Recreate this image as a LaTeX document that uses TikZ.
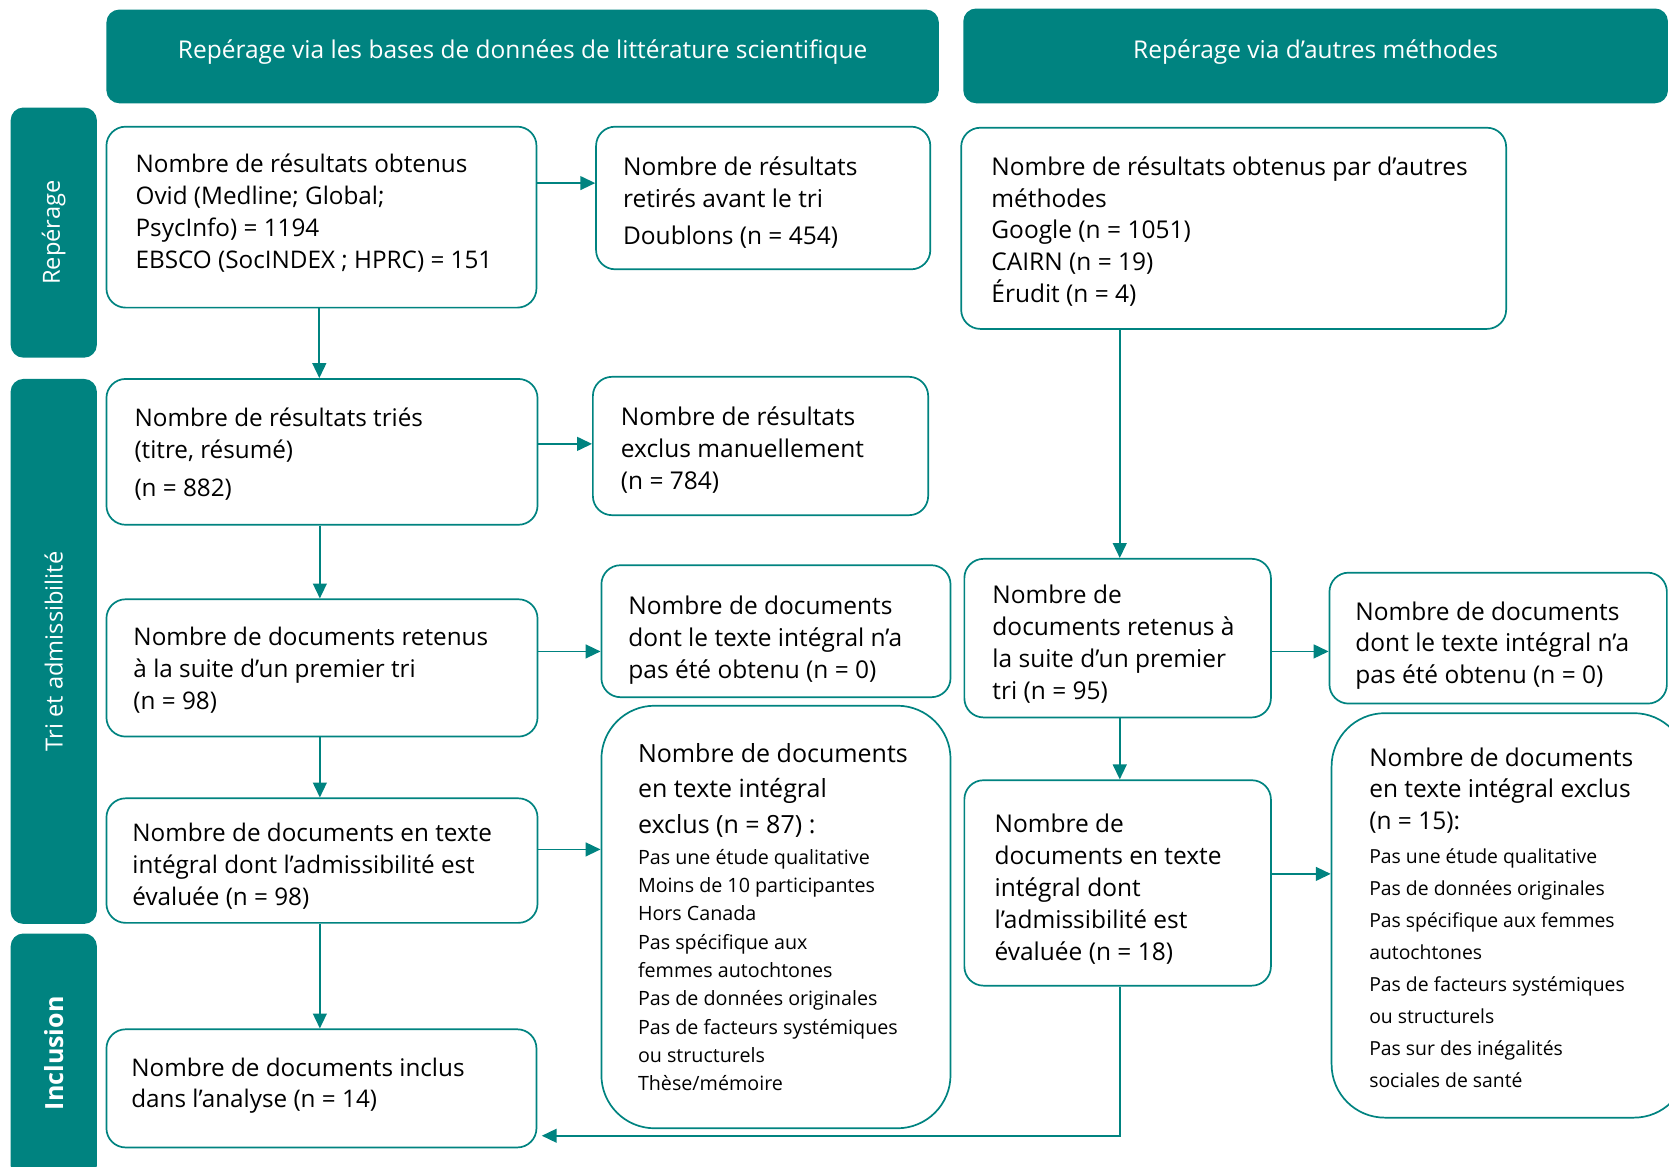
\documentclass[tikz,border=0pt]{standalone}
\usepackage{fontspec}
\setmainfont{Open Sans}
\usetikzlibrary{arrows.meta}
\definecolor{tl}{RGB}{0,131,128}
\begin{document}
\begin{tikzpicture}[x=1pt,y=-1pt,
  hdr/.style={fill=tl, rounded corners=12pt, inner sep=0pt},
  hdrtxt/.style={text=white, inner sep=0pt, font=\fontsize{23}{27}\selectfont},
  side/.style={fill=tl, rounded corners=12pt, inner sep=0pt},
  sidetxt/.style={text=white, rotate=90, inner sep=0pt, font=\fontsize{22.2}{26}\selectfont},
  bx/.style={draw=tl, line width=1.6pt, rounded corners=18pt, inner sep=0pt},
  bigbx/.style={draw=tl, line width=1.6pt, rounded corners=50pt, inner sep=0pt},
  txt/.style={anchor=west, align=left, inner sep=0pt, font=\fontsize{22.8}{30}\selectfont},
  txtw/.style={anchor=west, align=left, inner sep=0pt, font=\fontsize{23}{30}\selectfont},
  lst/.style={anchor=west, inner sep=0pt},
  arr/.style={draw=tl, line width=1.6pt, -{Triangle[length=14pt,width=13pt]}}
]
\useasboundingbox (0,0) rectangle (1568,1096);

% headers
\node[hdr, minimum width=782pt, minimum height=88pt] (h1) at (491,53) {};
\node[hdrtxt] (h1t) at ([yshift=4pt]h1.center) {Repérage via les bases de données de littérature scientifique};
\node[hdr, minimum width=662pt, minimum height=89pt] (h2) at (1236,52.5) {};
\node[hdrtxt] (h2t) at ([yshift=4pt]h2.center) {Repérage via d’autres méthodes};

% side bars
\node[side, minimum width=81pt, minimum height=235pt] (s1) at (50.5,218.5) {};
\node[sidetxt] (s1t) at (s1.center) {Repérage};
\node[side, minimum width=81pt, minimum height=512pt] (s2) at (50.5,612) {};
\node[sidetxt] (s2t) at (s2.center) {Tri et admissibilité};
\node[side, minimum width=81pt, minimum height=230pt] (s3) at (50.5,992) {};
\node[sidetxt, font=\fontsize{23.5}{27}\selectfont\bfseries] (s3t) at (50.5,989.5) {Inclusion};

% boxes
\node[bx, minimum width=404pt, minimum height=170pt] (A) at (302,204) {};
\node[txt] (At) at ([xshift=28pt,yshift=4pt]A.west) {Nombre de résultats obtenus\\Ovid (Medline; Global;\\PsycInfo) = 1194\\EBSCO (SocINDEX ; HPRC) = 151};

\node[bx, minimum width=314pt, minimum height=134pt] (B) at (717,186) {};
\node[txtw] (Bt) at ([xshift=26pt,yshift=-4.5pt]B.west) {Nombre de résultats\\retirés avant le tri\\[5pt]Doublons (n = 454)};

\node[bx, minimum width=512pt, minimum height=189pt] (C) at (1159,214.5) {};
\node[txtw] (Ct) at ([xshift=29pt,yshift=-3pt]C.west) {Nombre de résultats obtenus par d’autres\\méthodes\\Google (n = 1051)\\CAIRN (n = 19)\\Érudit (n = 4)};

\node[bx, minimum width=405pt, minimum height=137pt] (D) at (302.5,424.5) {};
\node[txt] (Dt) at ([xshift=27pt,yshift=-2pt]D.west) {Nombre de résultats triés\\(titre, résumé)\\[6pt](n = 882)};

\node[bx, minimum width=315pt, minimum height=130pt] (E) at (714.5,419) {};
\node[txtw] (Et) at ([xshift=27pt,yshift=-4pt]E.west) {Nombre de résultats\\exclus manuellement\\(n = 784)};

\node[bx, minimum width=405pt, minimum height=129pt] (F) at (302.5,627.5) {};
\node[txt] (Ft) at ([xshift=26pt,yshift=-2.5pt]F.west) {Nombre de documents retenus\\à la suite d’un premier tri\\(n = 98)};

\node[bx, minimum width=328pt, minimum height=124pt] (G) at (729,593) {};
\node[txtw] (Gt) at ([xshift=26pt,yshift=-8pt]G.west) {Nombre de documents\\dont le texte intégral n’a\\pas été obtenu (n = 0)};

\node[bx, minimum width=288pt, minimum height=149pt] (H) at (1050,599.5) {};
\node[txtw] (Ht) at ([xshift=27pt,yshift=-6pt]H.west) {Nombre de\\documents retenus à\\la suite d’un premier\\tri (n = 95)};

\node[bx, minimum width=317pt, minimum height=123pt] (I) at (1407.5,599.5) {};
\node[txtw] (It) at ([xshift=25pt,yshift=-7pt]I.west) {Nombre de documents\\dont le texte intégral n’a\\pas été obtenu (n = 0)};

\node[bx, minimum width=405pt, minimum height=117pt] (J) at (302.5,808.5) {};
\node[txt] (Jt) at ([xshift=25pt,yshift=-5pt]J.west) {Nombre de documents en texte\\intégral dont l’admissibilité est\\évaluée (n = 98)};

\node[bigbx, minimum width=328pt, minimum height=397pt] (K) at (729,861.5) {};
\node[lst] (Kt) at ([xshift=35pt]K.west) {\parbox{285pt}{\raggedright
\fontsize{23.5}{33.5}\selectfont Nombre de documents\\en texte intégral\\exclus (n = 87) :\par\vspace{2.4pt}
\fontsize{18.5}{26.6}\selectfont Pas une étude qualitative\\Moins de 10 participantes\\Hors Canada\\Pas spécifique aux\\femmes autochtones\\Pas de données originales\\Pas de facteurs systémiques\\ou structurels\\Thèse/mémoire\par}};

\node[bx, minimum width=288pt, minimum height=193pt] (L) at (1050,829.5) {};
\node[txtw] (Lt) at ([xshift=29pt,yshift=-5.5pt]L.west) {Nombre de\\documents en texte\\intégral dont\\l’admissibilité est\\évaluée (n = 18)};

\node[bigbx, minimum width=334pt, minimum height=380pt] (M) at (1418,860) {};
\node[lst] (Mt) at ([xshift=36pt,yshift=-2pt]M.west) {\parbox{290pt}{\raggedright
\fontsize{23}{30}\selectfont Nombre de documents\\en texte intégral exclus\\(n = 15):\par\vspace{2pt}
\fontsize{18.2}{30}\selectfont Pas une étude qualitative\\Pas de données originales\\Pas spécifique aux femmes\\autochtones\\Pas de facteurs systémiques\\ou structurels\\Pas sur des inégalités\\sociales de santé\par}};

\node[bx, minimum width=404pt, minimum height=111pt] (N) at (302,1022.5) {};
\node[txt] (Nt) at ([xshift=24pt,yshift=2.5pt]N.west) {Nombre de documents inclus\\dans l’analyse (n = 14)};

% connectors
\draw[arr] ([yshift=32pt]A.east) -- ([yshift=32pt]A.east -| B.west);
\draw[arr] ([xshift=-2pt]A.south) -- ([xshift=-2pt]A.south |- D.north);
\draw[arr] ([yshift=7.5pt]D.east) -- ([yshift=7.5pt]D.east -| E.west);
\draw[arr] ([xshift=-2pt]D.south) -- ([xshift=-2pt]D.south |- F.north);
\draw[arr] ([yshift=15.5pt]F.east) -- ([yshift=15.5pt]F.east -| G.west);
\draw[arr] ([xshift=-2pt]F.south) -- ([xshift=-2pt]F.south |- J.north);
\draw[arr] ([yshift=10.5pt]J.east) -- ([yshift=10.5pt]J.east -| K.west);
\draw[arr] ([xshift=-2pt]J.south) -- ([xshift=-2pt]J.south |- N.north);
\draw[arr] ([xshift=2pt]H.north |- C.south) -- ([xshift=2pt]H.north);
\draw[arr] ([yshift=-12.5pt]H.east) -- ([yshift=-12.5pt]H.east -| I.west);
\draw[arr] ([xshift=2pt]H.south) -- ([xshift=2pt]H.north |- L.north);
\draw[arr] ([yshift=8.5pt]L.east) -- ([yshift=8.5pt]L.east -| M.west);
\coordinate (nin) at (509,1067);
\draw[arr] ([xshift=2pt]L.south) |- (nin);
\end{tikzpicture}
\end{document}
